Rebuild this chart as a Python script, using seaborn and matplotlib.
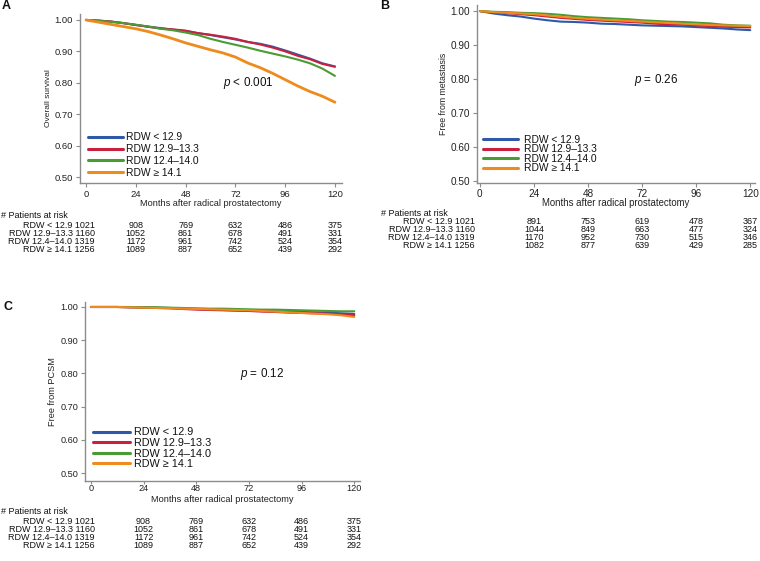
"""
plot.py
Kaplan-Meier style curves by RDW group (overall survival, metastasis,
PCSM) with patients-at-risk tables under each panel. Saved to out.png.
"""

import matplotlib
matplotlib.use("Agg")
import matplotlib.pyplot as plt
import matplotlib.transforms as mtransforms
import pandas as pd
import seaborn as sns

sns.set_theme(style="white")
plt.rcParams["font.family"] = ["Liberation Sans", "DejaVu Sans"]
plt.rcParams["mathtext.fontset"] = "custom"
plt.rcParams["mathtext.it"] = "Liberation Sans:italic"
plt.rcParams["mathtext.rm"] = "Liberation Sans"

W, H = 760, 561

# ---- data ----
groups = ["RDW < 12.9", "RDW 12.9\u201313.3", "RDW 12.4\u201314.0", "RDW \u2265 14.1"]
colors = ["#2f58a8", "#c8213f", "#4b9b35", "#ef8a1d"]
months = [0, 6, 12, 18, 24, 30, 36, 42, 48, 54, 60, 66, 72, 78, 84, 90, 96, 102, 108, 114, 120]
risk_months = [24, 48, 72, 96, 120]

os_blue = [1.0, 0.998, 0.995, 0.990, 0.984, 0.979, 0.974, 0.969, 0.965, 0.958, 0.952,
           0.945, 0.938, 0.930, 0.924, 0.915, 0.903, 0.890, 0.877, 0.862, 0.852]
os_red = [1.0, 0.998, 0.995, 0.990, 0.984, 0.978, 0.973, 0.970, 0.966, 0.958, 0.953,
          0.947, 0.940, 0.930, 0.922, 0.912, 0.900, 0.886, 0.875, 0.860, 0.851]
os_green = [1.0, 0.997, 0.994, 0.990, 0.985, 0.979, 0.972, 0.967, 0.960, 0.952, 0.940,
            0.930, 0.921, 0.912, 0.902, 0.893, 0.884, 0.874, 0.862, 0.845, 0.822]
os_orange = [1.0, 0.993, 0.986, 0.979, 0.972, 0.963, 0.952, 0.940, 0.927, 0.916, 0.905,
             0.895, 0.882, 0.863, 0.848, 0.830, 0.810, 0.790, 0.772, 0.757, 0.738]

met_blue = [1.0, 0.993, 0.988, 0.984, 0.978, 0.973, 0.969, 0.968, 0.966, 0.963, 0.962,
            0.960, 0.958, 0.957, 0.956, 0.955, 0.953, 0.951, 0.949, 0.946, 0.944]
met_red = [1.0, 0.996, 0.994, 0.991, 0.988, 0.984, 0.980, 0.977, 0.974, 0.972, 0.970,
           0.968, 0.966, 0.963, 0.961, 0.960, 0.958, 0.956, 0.954, 0.953, 0.952]
met_green = [1.0, 0.998, 0.997, 0.995, 0.994, 0.992, 0.989, 0.985, 0.982, 0.980, 0.978,
             0.976, 0.973, 0.971, 0.969, 0.968, 0.966, 0.964, 0.960, 0.958, 0.957]
met_orange = [1.0, 0.997, 0.995, 0.993, 0.991, 0.987, 0.983, 0.980, 0.977, 0.975, 0.973,
              0.971, 0.969, 0.967, 0.965, 0.963, 0.961, 0.959, 0.958, 0.957, 0.956]

pcsm_blue = [1.0, 1.0, 1.0, 0.999, 0.999, 0.998, 0.997, 0.995, 0.994, 0.992, 0.991,
             0.990, 0.989, 0.988, 0.987, 0.986, 0.985, 0.984, 0.983, 0.981, 0.979]
pcsm_red = [1.0, 1.0, 1.0, 0.999, 0.998, 0.997, 0.996, 0.994, 0.992, 0.991, 0.990,
            0.989, 0.988, 0.986, 0.985, 0.983, 0.982, 0.981, 0.980, 0.978, 0.975]
pcsm_green = [1.0, 1.0, 1.0, 1.0, 0.999, 0.999, 0.998, 0.997, 0.996, 0.995, 0.995,
              0.994, 0.993, 0.992, 0.992, 0.991, 0.990, 0.989, 0.988, 0.987, 0.987]
pcsm_orange = [1.0, 1.0, 1.0, 0.999, 0.998, 0.997, 0.996, 0.995, 0.994, 0.993, 0.992,
               0.991, 0.990, 0.988, 0.986, 0.984, 0.982, 0.980, 0.978, 0.975, 0.970]

risk_a = [[1021, 908, 769, 632, 486, 375],
          [1160, 1052, 861, 678, 491, 331],
          [1319, 1172, 961, 742, 524, 354],
          [1256, 1089, 887, 652, 439, 292]]
risk_b = [[1021, 891, 753, 619, 478, 367],
          [1160, 1044, 849, 663, 477, 324],
          [1319, 1170, 952, 730, 515, 346],
          [1256, 1082, 877, 639, 429, 285]]
risk_c = risk_a

panels = [
    dict(letter="A", ylabel="Overall survival", pval="$p$ < 0.001",
         curves=[os_blue, os_red, os_green, os_orange], risk=risk_a,
         box=(80, 14, 342, 183), xlim=(-2.9, 123.4), ylim=(0.481, 1.019),
         ptxt=(66, 0.80), leg=(0.031, 0.30), leg_fs=7.4, leg_sp=0.18, leg_tp=0.3,
         tick_fs=6.8, tick_len=3, tick_pad=2, lab_fs=6.6, ylab_fs=6.0,
         tab_fs=6.5, xlab_y=203.5,
         head=(0, 215), rows=[225.7, 233.7, 241.3, 249.0], lab_right=95),
    dict(letter="B", ylabel="Free from metastasis", pval="$p$ = 0.26",
         curves=[met_blue, met_red, met_green, met_orange], risk=risk_b,
         box=(477, 5, 755, 183), xlim=(-1.3, 122.1), ylim=(0.494, 1.018),
         ptxt=(68.6, 0.797), leg=(0.022, 0.272), leg_fs=7.4, leg_sp=-0.04, leg_tp=0.6,
         tick_fs=7.2, tick_len=3, tick_pad=1.5, lab_fs=6.9, ylab_fs=6.3,
         tab_fs=6.5, xlab_y=203,
         head=(380, 213), rows=[221.7, 229.7, 237.3, 245.3], lab_right=475),
    dict(letter="C", ylabel="Free from PCSM", pval="$p$ = 0.12",
         curves=[pcsm_blue, pcsm_red, pcsm_green, pcsm_orange], risk=risk_c,
         box=(85, 302, 360, 481), xlim=(-2.7, 122.6), ylim=(0.476, 1.015),
         ptxt=(68, 0.798), leg=(0.03, 0.30), leg_fs=7.8, leg_sp=0.06, leg_tp=0.4,
         tick_fs=6.6, tick_len=2, tick_pad=0.2, lab_fs=6.7, ylab_fs=6.6,
         tab_fs=6.5, xlab_y=499,
         head=(0, 511.7), rows=[521.7, 529.7, 537.3, 545.3], lab_right=95),
]
letter_pos = {"A": (2, 6), "B": (380, 6), "C": (3, 307)}


def fx(px):
    return px / W


def fy(py):
    return 1 - py / H


fig = plt.figure(figsize=(W / 100, H / 100), dpi=100)

for p in panels:
    x0, y0, x1, y1 = p["box"]
    ax = fig.add_axes([fx(x0), fy(y1), (x1 - x0) / W, (y1 - y0) / H])

    df = pd.DataFrame({
        "month": months * len(groups),
        "surv": [v for c in p["curves"] for v in c],
        "group": [g for g in groups for _ in months],
    })
    for g, c in zip(groups, colors):
        lw = 2.0 if (p["letter"] == "A" and c == colors[3]) else 1.5
        sns.lineplot(data=df[df["group"] == g], x="month", y="surv", color=c,
                     lw=lw, ax=ax, legend=False, errorbar=None)

    ax.set_xlim(*p["xlim"])
    ax.set_ylim(*p["ylim"])
    ax.set_xticks([0, 24, 48, 72, 96, 120])
    ax.set_yticks([0.5, 0.6, 0.7, 0.8, 0.9, 1.0])
    ax.set_yticklabels([f"{v:.2f}" for v in ax.get_yticks()])
    for s in ["top", "right"]:
        ax.spines[s].set_visible(False)
    for s in ["left", "bottom"]:
        ax.spines[s].set_color("#8c8c8c")
        ax.spines[s].set_linewidth(1.0)
    ax.tick_params(direction="out", length=p["tick_len"], width=0.8, color="#8c8c8c",
                   pad=p["tick_pad"], labelsize=p["tick_fs"], labelcolor="#222222",
                   left=True, bottom=True)
    ax.tick_params(axis="y", pad=2, length=3)

    ax.set_ylabel(p["ylabel"], fontsize=p["ylab_fs"], color="#222222", labelpad=2)
    ax.set_xlabel("Months after radical prostatectomy", fontsize=p["lab_fs"],
                  color="#222222")
    ax.xaxis.set_label_coords(0.5, (y1 - p["xlab_y"]) / (y1 - y0))
    ax.xaxis.label.set_va("center")

    ax.text(p["ptxt"][0], p["ptxt"][1], p["pval"], fontsize=8.4,
            ha="left", va="center", color="#111111")

    leg = ax.legend(ax.get_lines()[:4], groups, loc="upper left",
                    bbox_to_anchor=p["leg"], frameon=False, fontsize=p["leg_fs"],
                    handlelength=3.4, handletextpad=p["leg_tp"],
                    labelspacing=p["leg_sp"], borderpad=0, borderaxespad=0)
    for line in leg.get_lines():
        line.set_linewidth(2.2)
    for t in leg.get_texts():
        t.set_color("#111111")

    # patients-at-risk table
    fig.text(fx(p["head"][0] + 1), fy(p["head"][1]), "# Patients at risk",
             fontsize=p["tab_fs"], ha="left", va="center", color="#111111")
    tr = mtransforms.blended_transform_factory(ax.transData, fig.transFigure)
    for g, counts, ry in zip(groups, p["risk"], p["rows"]):
        fig.text(fx(p["lab_right"]), fy(ry), f"{g} {counts[0]}",
                 fontsize=p["tab_fs"], ha="right", va="center", color="#111111")
        for m, n in zip(risk_months, counts[1:]):
            ax.text(m, fy(ry), str(n), transform=tr, fontsize=p["tab_fs"],
                    ha="center", va="center", color="#111111", clip_on=False)

    lx, ly = letter_pos[p["letter"]]
    fig.text(fx(lx), fy(ly), p["letter"], fontsize=9, fontweight="bold",
             ha="left", va="center", color="#111111")

fig.savefig("out.png", dpi=100)
plt.close(fig)
